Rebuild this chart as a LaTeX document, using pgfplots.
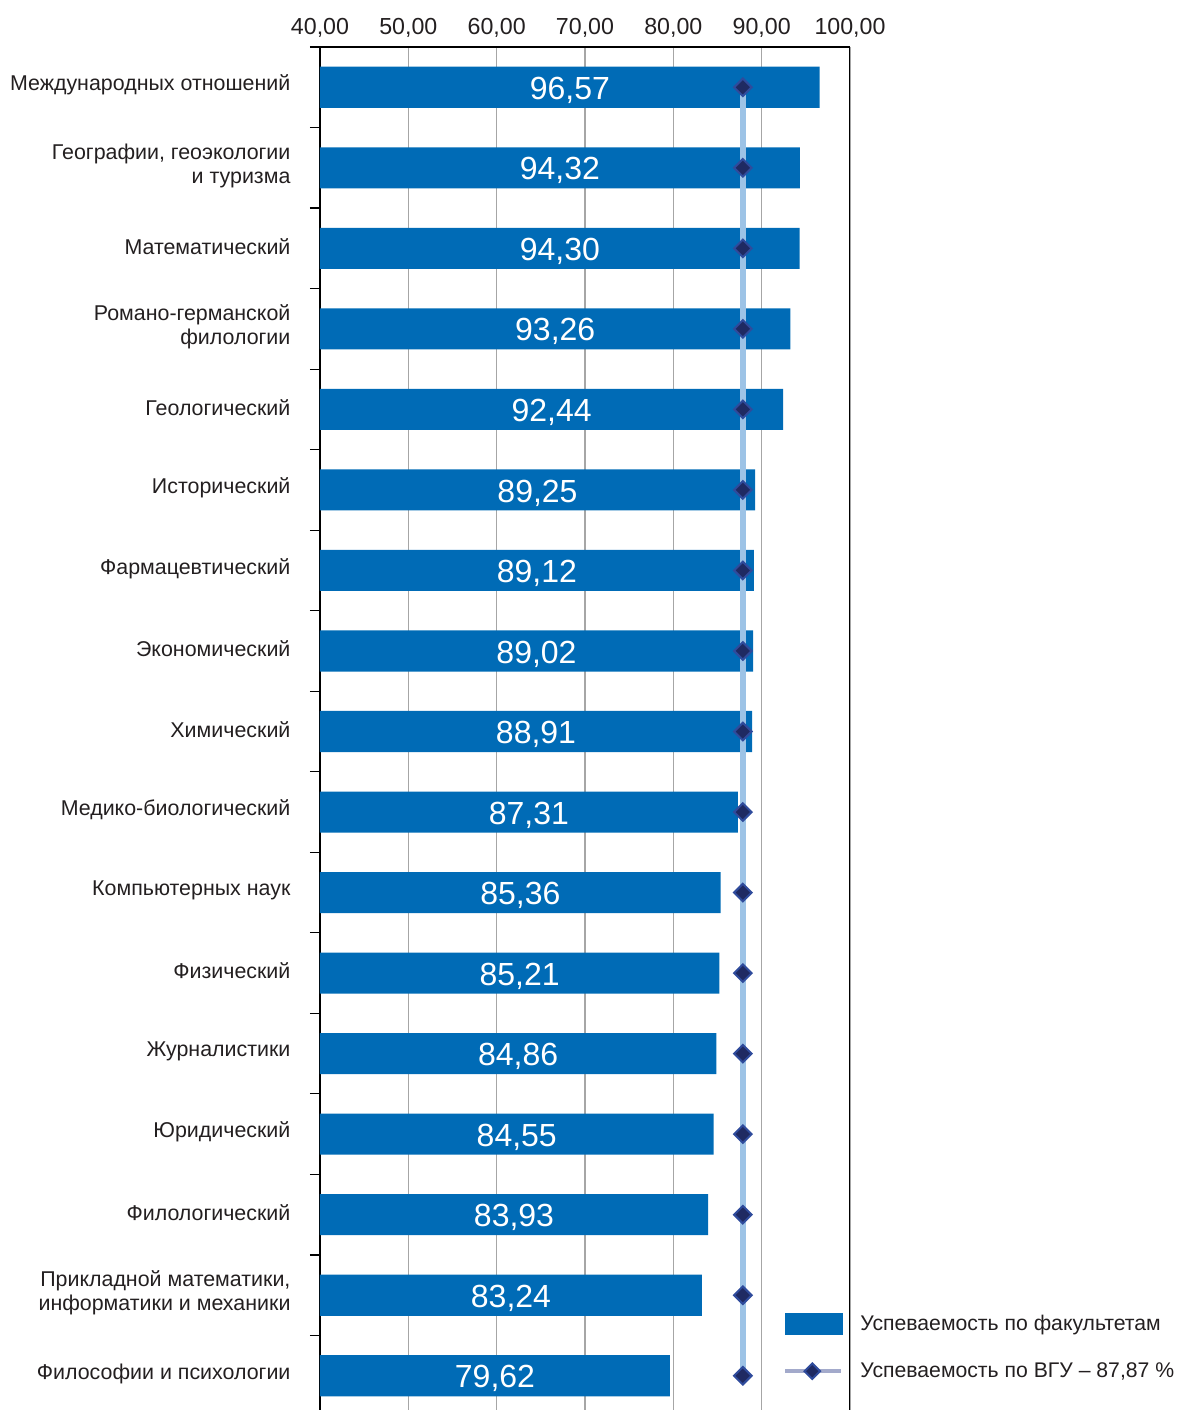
\documentclass[border=0pt]{standalone}
\usepackage{pgfplots}
\pgfplotsset{compat=1.18}
\usepackage{pgfplotstable}
\usepackage{fontspec}
\setmainfont{Liberation Sans}
\definecolor{barblue}{HTML}{006BB6}
\definecolor{avgline}{HTML}{9DC3E6}
\definecolor{legline}{HTML}{A3AACB}
\definecolor{dmfill}{HTML}{1F2A62}
\definecolor{dmdraw}{HTML}{2F4B9C}
\definecolor{txt}{HTML}{231F20}
\pgfplotstableread{
idx val
0 96.57
1 94.32
2 94.30
3 93.26
4 92.44
5 89.25
6 89.12
7 89.02
8 88.91
9 87.31
10 85.36
11 85.21
12 84.86
13 84.55
14 83.93
15 83.24
16 79.62
}\data
\pgfplotstableread{
idx avg
0 87.87
1 87.87
2 87.87
3 87.87
4 87.87
5 87.87
6 87.87
7 87.87
8 87.87
9 87.87
10 87.87
11 87.87
12 87.87
13 87.87
14 87.87
15 87.87
16 87.87
}\avgdata
\begin{document}
\begin{tikzpicture}
\begin{axis}[
  at={(0,0)}, anchor=south west,
  scale only axis,
  width=265pt, height=684.5pt,
  xmin=40, xmax=100,
  ymin=-0.5, ymax=16.5,
  y dir=reverse,
  axis x line*=top,
  axis y line*=left,
  axis line style={black, line width=0.6pt},
  xtick={40,50,...,100},
  xticklabel style={font=\fontsize{11.6}{13}\selectfont, text=txt, yshift=-3pt},
  /pgf/number format/.cd, fixed, fixed zerofill, precision=2, use comma, assume math mode=true,
  /pgfplots/.cd,
  xmajorgrids,
  grid style={gray!70, line width=0.6pt},
  major x tick style={draw=none},
  ytick={0,...,16},
  yticklabels={
    Международных отношений,
    {Географии, геоэкологии\\и туризма},
    Математический,
    Романо-германской\\филологии,
    Геологический,
    Исторический,
    Фармацевтический,
    Экономический,
    Химический,
    Медико-биологический,
    Компьютерных наук,
    Физический,
    Журналистики,
    Юридический,
    Филологический,
    {Прикладной математики,\\информатики и механики},
    Философии и психологии},
  yticklabel style={align=right, font=\fontsize{10.7}{12}\selectfont, text=txt, xshift=-7pt, yshift=1pt},
  major y tick style={draw=none},
  minor ytick={-0.5,0.5,...,16.5},
  minor tick length=5pt,
  minor y tick style={black, line width=0.6pt},
  tick align=outside,
  clip=true,
  legend style={at={(0.873,0.023)}, anchor=south west, draw=none, fill=none,
    font=\fontsize{10.6}{12}\selectfont, text=txt,
    row sep=10.5pt, inner sep=0pt},
  legend cell align=left,
]
\addplot[xbar, bar width=0.51, bar shift=0pt, fill=barblue, draw=none,
  legend image code/.code={\fill[barblue] (0pt,-5.5pt) rectangle (29pt,5.5pt);}]
  table[x=val, y=idx] {\data};
\addlegendentry{\hspace{6.5pt}Успеваемость по факультетам}
\addplot[draw=none, mark=none, forget plot,
  nodes near coords={\pgfmathprintnumber[fixed, fixed zerofill, precision=2, use comma, assume math mode=true]{\pgfplotspointmeta}},
  point meta=explicit,
  every node near coord/.append style={anchor=center, text=white, font=\fontsize{16}{18}\selectfont, yshift=-1.5pt}]
  table[x expr=\thisrow{val}/2+20, y=idx, meta=val] {\data};
\addplot[avgline, line width=3pt, mark=square*,
  mark options={rotate=45, fill=dmfill, draw=dmdraw, line width=1pt, mark size=3.1pt},
  legend image code/.code={
    \draw[legline, line width=2.2pt] (0pt,0pt) -- (28pt,0pt);
    \filldraw[draw=dmdraw, fill=dmfill, line width=1pt] (13.5pt,3.9pt) -- (17.4pt,0pt) -- (13.5pt,-3.9pt) -- (9.6pt,0pt) -- cycle;
  }]
  table[x=avg, y=idx] {\avgdata};
\addlegendentry{\hspace{6.5pt}Успеваемость по ВГУ -- 87,87 \%}
\draw[black, line width=0.6pt] (rel axis cs:1,0) -- (rel axis cs:1,1);
\end{axis}
\pgfresetboundingbox
\path (-160pt,3pt) rectangle (430.5pt,708pt);
\end{tikzpicture}
\end{document}
